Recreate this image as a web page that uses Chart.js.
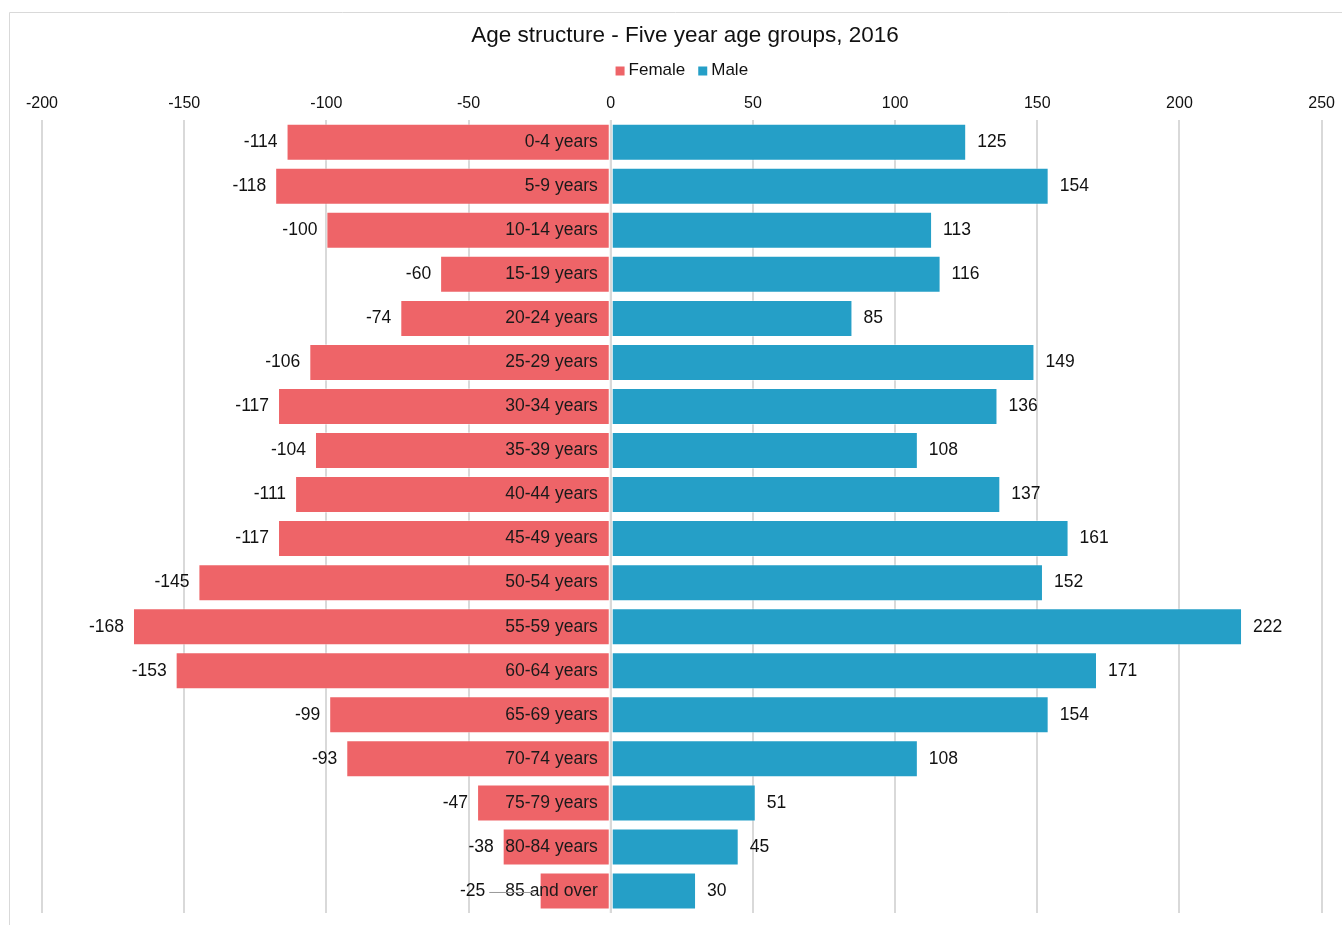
<!DOCTYPE html>
<html>
<head>
<meta charset="utf-8">
<script src="https://cdn.jsdelivr.net/npm/chart.js@4"></script>
<style>
  html, body { margin: 0; padding: 0; background: #fff; }
  #wrap { width: 1342px; height: 925px; position: relative; }
</style>
</head>
<body>
<div id="wrap"><canvas id="chart" width="1342" height="925"></canvas></div>
<script>
// 연령 구조 데이터 (5세 단위)
const ageGroups = ['0-4 years', '5-9 years', '10-14 years', '15-19 years', '20-24 years',
  '25-29 years', '30-34 years', '35-39 years', '40-44 years', '45-49 years', '50-54 years',
  '55-59 years', '60-64 years', '65-69 years', '70-74 years', '75-79 years', '80-84 years',
  '85 and over'];
const female = [-114, -118, -100, -60, -74, -106, -117, -104, -111, -117, -145, -168, -153, -99, -93, -47, -38, -25];
const male   = [125, 154, 113, 116, 85, 149, 136, 108, 137, 161, 152, 222, 171, 154, 108, 51, 45, 30];
const xTicks = [-200, -150, -100, -50, 0, 50, 100, 150, 200, 250];

const RED   = '#ee6468';
const BLUE  = '#259fc7';
const GRID  = '#d9d9d9';
const FONT  = "'Liberation Sans', Arial, sans-serif";

Chart.defaults.font.family = FONT;
Chart.defaults.color = '#111';

// 범례 직접 그리기 (제목 아래 여백 안)
const legendPlugin = {
  id: 'manualLegend',
  afterDraw(chart) {
    const ctx = chart.ctx;
    const area = chart.chartArea;
    const y = 70.5;
    ctx.save();
    ctx.font = '17px ' + FONT;
    ctx.textBaseline = 'middle';
    ctx.textAlign = 'left';
    const items = chart.data.datasets.map(ds => ({ text: ds.label, color: ds.backgroundColor }));
    const widths = items.map(it => 9 + 4 + ctx.measureText(it.text).width);
    const total = widths.reduce((a, b) => a + b, 0) + 13 * (items.length - 1);
    let x = (area.left + area.right) / 2 - total / 2;
    items.forEach((it, i) => {
      ctx.fillStyle = it.color;
      ctx.fillRect(x, y - 4, 9, 9);
      ctx.fillStyle = '#111';
      ctx.fillText(it.text, x + 13, y);
      x += widths[i] + 13;
    });
    ctx.restore();
  }
};

// 테두리, 0 기준선, 라벨 그리기
const labelPlugin = {
  id: 'pyramidLabels',
  beforeDraw(chart) {
    const ctx = chart.ctx;
    ctx.save();
    ctx.strokeStyle = '#d9d9d9';
    ctx.lineWidth = 1;
    ctx.beginPath();
    ctx.moveTo(9.5, chart.height);
    ctx.lineTo(9.5, 12.5);
    ctx.lineTo(chart.width, 12.5);
    ctx.stroke();
    ctx.restore();
  },
  afterDatasetsDraw(chart) {
    const ctx = chart.ctx;
    const x = chart.scales.x;
    const area = chart.chartArea;
    const x0 = x.getPixelForValue(0);

    ctx.save();
    ctx.strokeStyle = GRID;
    ctx.lineWidth = 2;
    ctx.beginPath();
    ctx.moveTo(x0, area.top);
    ctx.lineTo(x0, area.bottom);
    ctx.stroke();

    ctx.font = '17.5px ' + FONT;
    ctx.textBaseline = 'middle';
    const fMeta = chart.getDatasetMeta(0);
    const mMeta = chart.getDatasetMeta(1);

    ageGroups.forEach((name, i) => {
      const y = fMeta.data[i].y;
      // 카테고리 이름 (여성 막대 안쪽)
      ctx.fillStyle = '#1a1a1a';
      ctx.textAlign = 'right';
      const catRight = x0 - 13;
      ctx.fillText(name, catRight, y);
      const catLeft = catRight - ctx.measureText(name).width;

      // 여성 값
      const fx = x.getPixelForValue(female[i]);
      const txt = String(female[i]);
      let right = fx - 9;
      ctx.fillStyle = '#111';
      if (right > catLeft - 4) {
        right = catLeft - 20;
        ctx.strokeStyle = '#999';
        ctx.lineWidth = 1;
        ctx.beginPath();
        ctx.moveTo(right + 4, y + 1.5);
        ctx.lineTo(fx - 6, y + 1.5);
        ctx.stroke();
      }
      ctx.textAlign = 'right';
      ctx.fillText(txt, right, y);

      // 남성 값
      const mx = mMeta.data[i].x;
      ctx.textAlign = 'left';
      ctx.fillText(String(male[i]), mx + 11, y);
    });
    ctx.restore();
  }
};

new Chart(document.getElementById('chart'), {
  type: 'bar',
  data: {
    labels: ageGroups,
    datasets: [
      {
        label: 'Female',
        data: female,
        backgroundColor: RED,
        borderColor: 'rgba(255,255,255,0.35)',
        borderWidth: 1,
        borderSkipped: false,
        barPercentage: 0.84,
        categoryPercentage: 1,
      },
      {
        label: 'Male',
        data: male,
        backgroundColor: BLUE,
        borderColor: 'rgba(255,255,255,0.35)',
        borderWidth: 1,
        borderSkipped: false,
        barPercentage: 0.84,
        categoryPercentage: 1,
      },
    ],
  },
  options: {
    indexAxis: 'y',
    responsive: false,
    animation: false,
    layout: { padding: { left: 42, right: 14, top: 20, bottom: 12 } },
    plugins: {
      title: {
        display: true,
        text: 'Age structure - Five year age groups, 2016',
        color: '#111',
        font: { size: 22.5, weight: 'normal' },
        padding: { top: 2, bottom: 38 },
      },
      legend: { display: false },
      tooltip: { enabled: false },
    },
    scales: {
      x: {
        position: 'top',
        stacked: true,
        min: -200,
        max: 250,
        afterBuildTicks: axis => { axis.ticks = xTicks.map(v => ({ value: v })); },
        grid: { color: GRID, lineWidth: 2, drawTicks: false },
        border: { display: false },
        ticks: { color: '#111', font: { size: 16 }, padding: 7 },
      },
      y: {
        stacked: true,
        display: false,
      },
    },
  },
  plugins: [labelPlugin, legendPlugin],
});
</script>
</body>
</html>
